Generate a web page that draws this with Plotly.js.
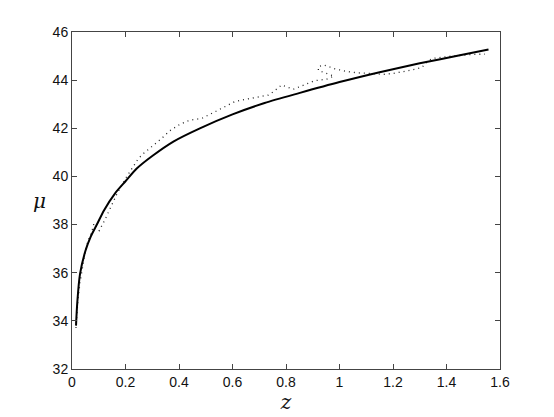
<!DOCTYPE html>
<html>
<head>
<meta charset="utf-8">
<script src="https://cdn.plot.ly/plotly-3.0.1.min.js"></script>
<style>
  body { margin: 0; padding: 0; background: #fff; }
  #plotArea { width: 554px; height: 417px; }
</style>
</head>
<body>
<div id="plotArea"></div>
<script>
// model curve (solid)
var modelZ = [0.015, 0.02, 0.03, 0.05, 0.07, 0.093, 0.12, 0.161, 0.2, 0.242, 0.3, 0.379, 0.478, 0.6, 0.72, 0.852, 1.0, 1.15, 1.3, 1.45, 1.557];
var modelMu = [33.8, 34.8, 35.95, 36.9, 37.5, 38.0, 38.6, 39.3, 39.8, 40.33, 40.85, 41.45, 42.0, 42.58, 43.05, 43.47, 43.92, 44.33, 44.7, 45.03, 45.27];

// binned data (dotted)
var dataZ = [0.015, 0.022, 0.03, 0.04, 0.049, 0.059, 0.074, 0.082, 0.102, 0.123, 0.142, 0.161, 0.169, 0.204, 0.223, 0.248, 0.267, 0.298, 0.335, 0.366, 0.404, 0.441, 0.485, 0.528, 0.566, 0.609, 0.653, 0.697, 0.734, 0.753, 0.784, 0.827, 0.865, 0.908, 0.952, 0.979, 0.921, 0.921, 0.942, 0.983, 1.027, 1.07, 1.114, 1.164, 1.201, 1.226, 1.27, 1.307, 1.326, 1.345, 1.382, 1.419, 1.457, 1.494, 1.544];
var dataMu = [33.7, 34.85, 35.6, 36.25, 36.85, 37.3, 37.7, 38.05, 37.75, 38.2, 38.63, 39.08, 39.3, 39.98, 40.33, 40.74, 40.95, 41.23, 41.58, 41.9, 42.17, 42.34, 42.41, 42.65, 42.86, 43.11, 43.21, 43.31, 43.38, 43.52, 43.8, 43.62, 43.8, 43.98, 44.04, 44.17, 44.4, 44.56, 44.63, 44.47, 44.36, 44.3, 44.28, 44.24, 44.28, 44.32, 44.42, 44.52, 44.74, 44.9, 44.96, 45.0, 45.03, 45.07, 45.08];

var xTicks = [0, 0.2, 0.4, 0.6, 0.8, 1, 1.2, 1.4, 1.6];
var yTicks = [32, 34, 36, 38, 40, 42, 44, 46];

var dataTrace = {
    x: dataZ,
    y: dataMu,
    mode: "lines",
    type: "scatter",
    line: {color: "#222", width: 1.3, dash: "1px,4px"},
    hoverinfo: "skip"
};

var modelTrace = {
    x: modelZ,
    y: modelMu,
    mode: "lines",
    type: "scatter",
    line: {color: "#000", width: 2, shape: "spline", smoothing: 0.8},
    hoverinfo: "skip"
};

var axisStyle = {
    showgrid: false,
    zeroline: false,
    showline: true,
    mirror: "ticks",
    linecolor: "#444",
    linewidth: 1,
    ticks: "inside",
    ticklen: 5,
    tickcolor: "#444",
    tickfont: {family: "Liberation Sans, Arial, sans-serif", size: 14, color: "#111"}
};

var layout = {
    width: 554,
    height: 417,
    margin: {l: 72, r: 54, t: 32, b: 48},
    paper_bgcolor: "#fff",
    plot_bgcolor: "#fff",
    showlegend: false,
    xaxis: Object.assign({}, axisStyle, {
        range: [0, 1.6],
        tickvals: xTicks,
        ticktext: xTicks.map(String),
        title: {text: "z", font: {family: "DejaVu Serif, serif", size: 20, color: "#111", style: "italic"}, standoff: 4}
    }),
    yaxis: Object.assign({}, axisStyle, {
        range: [32, 46],
        tickvals: yTicks,
        ticktext: yTicks.map(String)
    }),
    annotations: [{
        text: "μ",
        xref: "paper",
        yref: "paper",
        x: -0.095,
        y: 0.5,
        showarrow: false,
        font: {family: "DejaVu Serif, serif", size: 20, color: "#111", style: "italic"}
    }]
};

Plotly.newPlot("plotArea", [dataTrace, modelTrace], layout, {displayModeBar: false, staticPlot: true});
</script>
</body>
</html>
